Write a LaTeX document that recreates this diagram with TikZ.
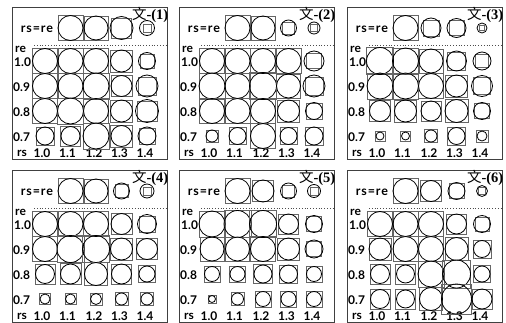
\documentclass[tikz,border=0pt]{standalone}
\usepackage{fontspec}
\setmainfont{Lato}
\newfontfamily\cjkf{Noto Sans CJK SC}
\newfontfamily\titf{Liberation Serif}
\newfontfamily\widef{Lato}[LetterSpace=7]
\tikzset{
  panelbox/.style={draw=black!75,line width=0.9pt},
  sq/.style={draw=black!60,line width=0.9pt},
  ci/.style={draw=black,line width=0.8pt},
  lab/.style={font=\bfseries\fontsize{12}{12}\selectfont,inner sep=0pt},
  tit/.style={inner sep=0pt,font=\fontsize{14.5}{14.5}\selectfont},
  dotline/.style={draw=black!70,line width=0.8pt,dash pattern=on 0.8pt off 2pt}
}
\newcommand\drawpanel[4]{%
  \begin{scope}[shift={(#1,#2)}]
    \draw[panelbox] (0,0) rectangle (155,152);
    \node[tit,anchor=north east] (t#3) at (156.5,0.5) {{\cjkf 文}{\titf\bfseries -(#3)}};
    \node[lab,font=\widef\bfseries\fontsize{12.5}{12.5}\selectfont] (rsre#3) at (25,22) {rs=re};
    \draw[dotline] (22,38) -- (155,38);
    \node[lab,anchor=west] (re#3) at (3,42) {re};
    \node[lab,anchor=west] (ra#3) at (2,55) {1.0};
    \node[lab,anchor=west] (rb#3) at (1,80) {0.9};
    \node[lab,anchor=west] (rc#3) at (1,105) {0.8};
    \node[lab,anchor=west] (rd#3) at (1,130) {0.7};
    \node[lab,anchor=west] (rs#3) at (5,146) {rs};
    \node[lab] (ca#3) at (30,146) {1.0};
    \node[lab] (cb#3) at (55.5,146) {1.1};
    \node[lab] (cc#3) at (82,146) {1.2};
    \node[lab] (cd#3) at (107.5,146) {1.3};
    \node[lab] (ce#3) at (133,146) {1.4};
    \foreach \cc/\rr/\ss/\dd in {#4} {
      \pgfmathsetmacro\xx{33+(\cc-1)*25.5}
      \pgfmathsetmacro\yy{\rr==0 ? 21 : 54+(\rr-1)*25}
      \draw[sq] (\xx-\ss/2,\yy-\ss/2) rectangle (\xx+\ss/2,\yy+\ss/2);
      \draw[ci] (\xx,\yy) circle[radius=\dd/2];
    }
  \end{scope}}
\begin{document}
\begin{tikzpicture}[x=1pt,y=-1pt]
\fill[white] (0,0) rectangle (506,322);
\useasboundingbox (0,0) rectangle (506,322);
\drawpanel{12}{7}{1}{2/0/25/25,3/0/24/24,4/0/20/23,5/0/8/15,
 1/1/25/25,2/1/25/25,3/1/25/25,4/1/22/22,5/1/14/17,
 1/2/25/25,2/2/25/25,3/2/26/26,4/2/21/21,5/2/18/22,
 1/3/25/25,2/3/26/26,3/3/25/25,4/3/22/22,5/3/20/23,
 1/4/18/18,2/4/20/19,3/4/26/26,4/4/22/21,5/4/16/18}
\drawpanel{179}{7}{2}{2/0/25/25,3/0/24/24,4/0/12/16,5/0/7/12,
 1/1/25/25,2/1/25/25,3/1/25/25,4/1/25/25,5/1/15/20,
 1/2/26/26,2/2/25/25,3/2/27/27,4/2/24/24,5/2/18/22,
 1/3/25/25,2/3/25/25,3/3/25/25,4/3/22/22,5/3/16/17,
 1/4/12/12,2/4/17/17,3/4/25/25,4/4/17/17,5/4/18/18}
\drawpanel{347}{7}{3}{2/0/25/25,3/0/16/20,4/0/15/19,5/0/5/10,
 1/1/27/27,2/1/26/26,3/1/24/24,4/1/18/20,5/1/13/18,
 1/2/26/26,2/2/26/26,3/2/25/25,4/2/22/22,5/2/17/21,
 1/3/21/21,2/3/22/22,3/3/20/20,4/3/23/23,5/3/15/17,
 1/4/10/8,2/4/10/8,3/4/13/12,4/4/18/17,5/4/12/10}
\drawpanel{12}{170}{4}{2/0/25/25,3/0/24/24,4/0/13/16,5/0/8/14,
 1/1/25/25,2/1/25/25,3/1/25/25,4/1/21/21,5/1/16/19,
 1/2/25/25,2/2/27/27,3/2/27/27,4/2/22/22,5/2/21/21,
 1/3/20/19,2/3/21/20,3/3/23/23,4/3/20/20,5/3/17/16,
 1/4/11/10,2/4/11/10,3/4/12/11,4/4/13/12,5/4/13/12}
\drawpanel{179}{170}{5}{2/0/25/25,3/0/21/22,4/0/12/16,5/0/8/13,
 1/1/26/26,2/1/27/27,3/1/27/27,4/1/20/20,5/1/15/17,
 1/2/24/24,2/2/24/24,3/2/25/25,4/2/22/22,5/2/15/18,
 1/3/16/15,2/3/16/15,3/3/19/18,4/3/18/18,5/3/16/15,
 1/4/8/7,2/4/13/12,3/4/16/15,4/4/16/15,5/4/16/15}
\drawpanel{347}{170}{6}{2/0/25/25,3/0/21/21,4/0/15/17,5/0/7/11,
 1/1/25/25,2/1/25/25,3/1/25/25,4/1/20/20,5/1/14/17,
 1/2/22/22,2/2/25/25,3/2/25/25,4/2/23/23,5/2/18/17,
 1/3/20/19,2/3/20/18,3/3/26/26,4/3/28/28,5/3/17/16,
 1/4/20/19,2/4/20/18,3/4/23/23,4/4/30/30,5/4/20/20}
\end{tikzpicture}
\end{document}
